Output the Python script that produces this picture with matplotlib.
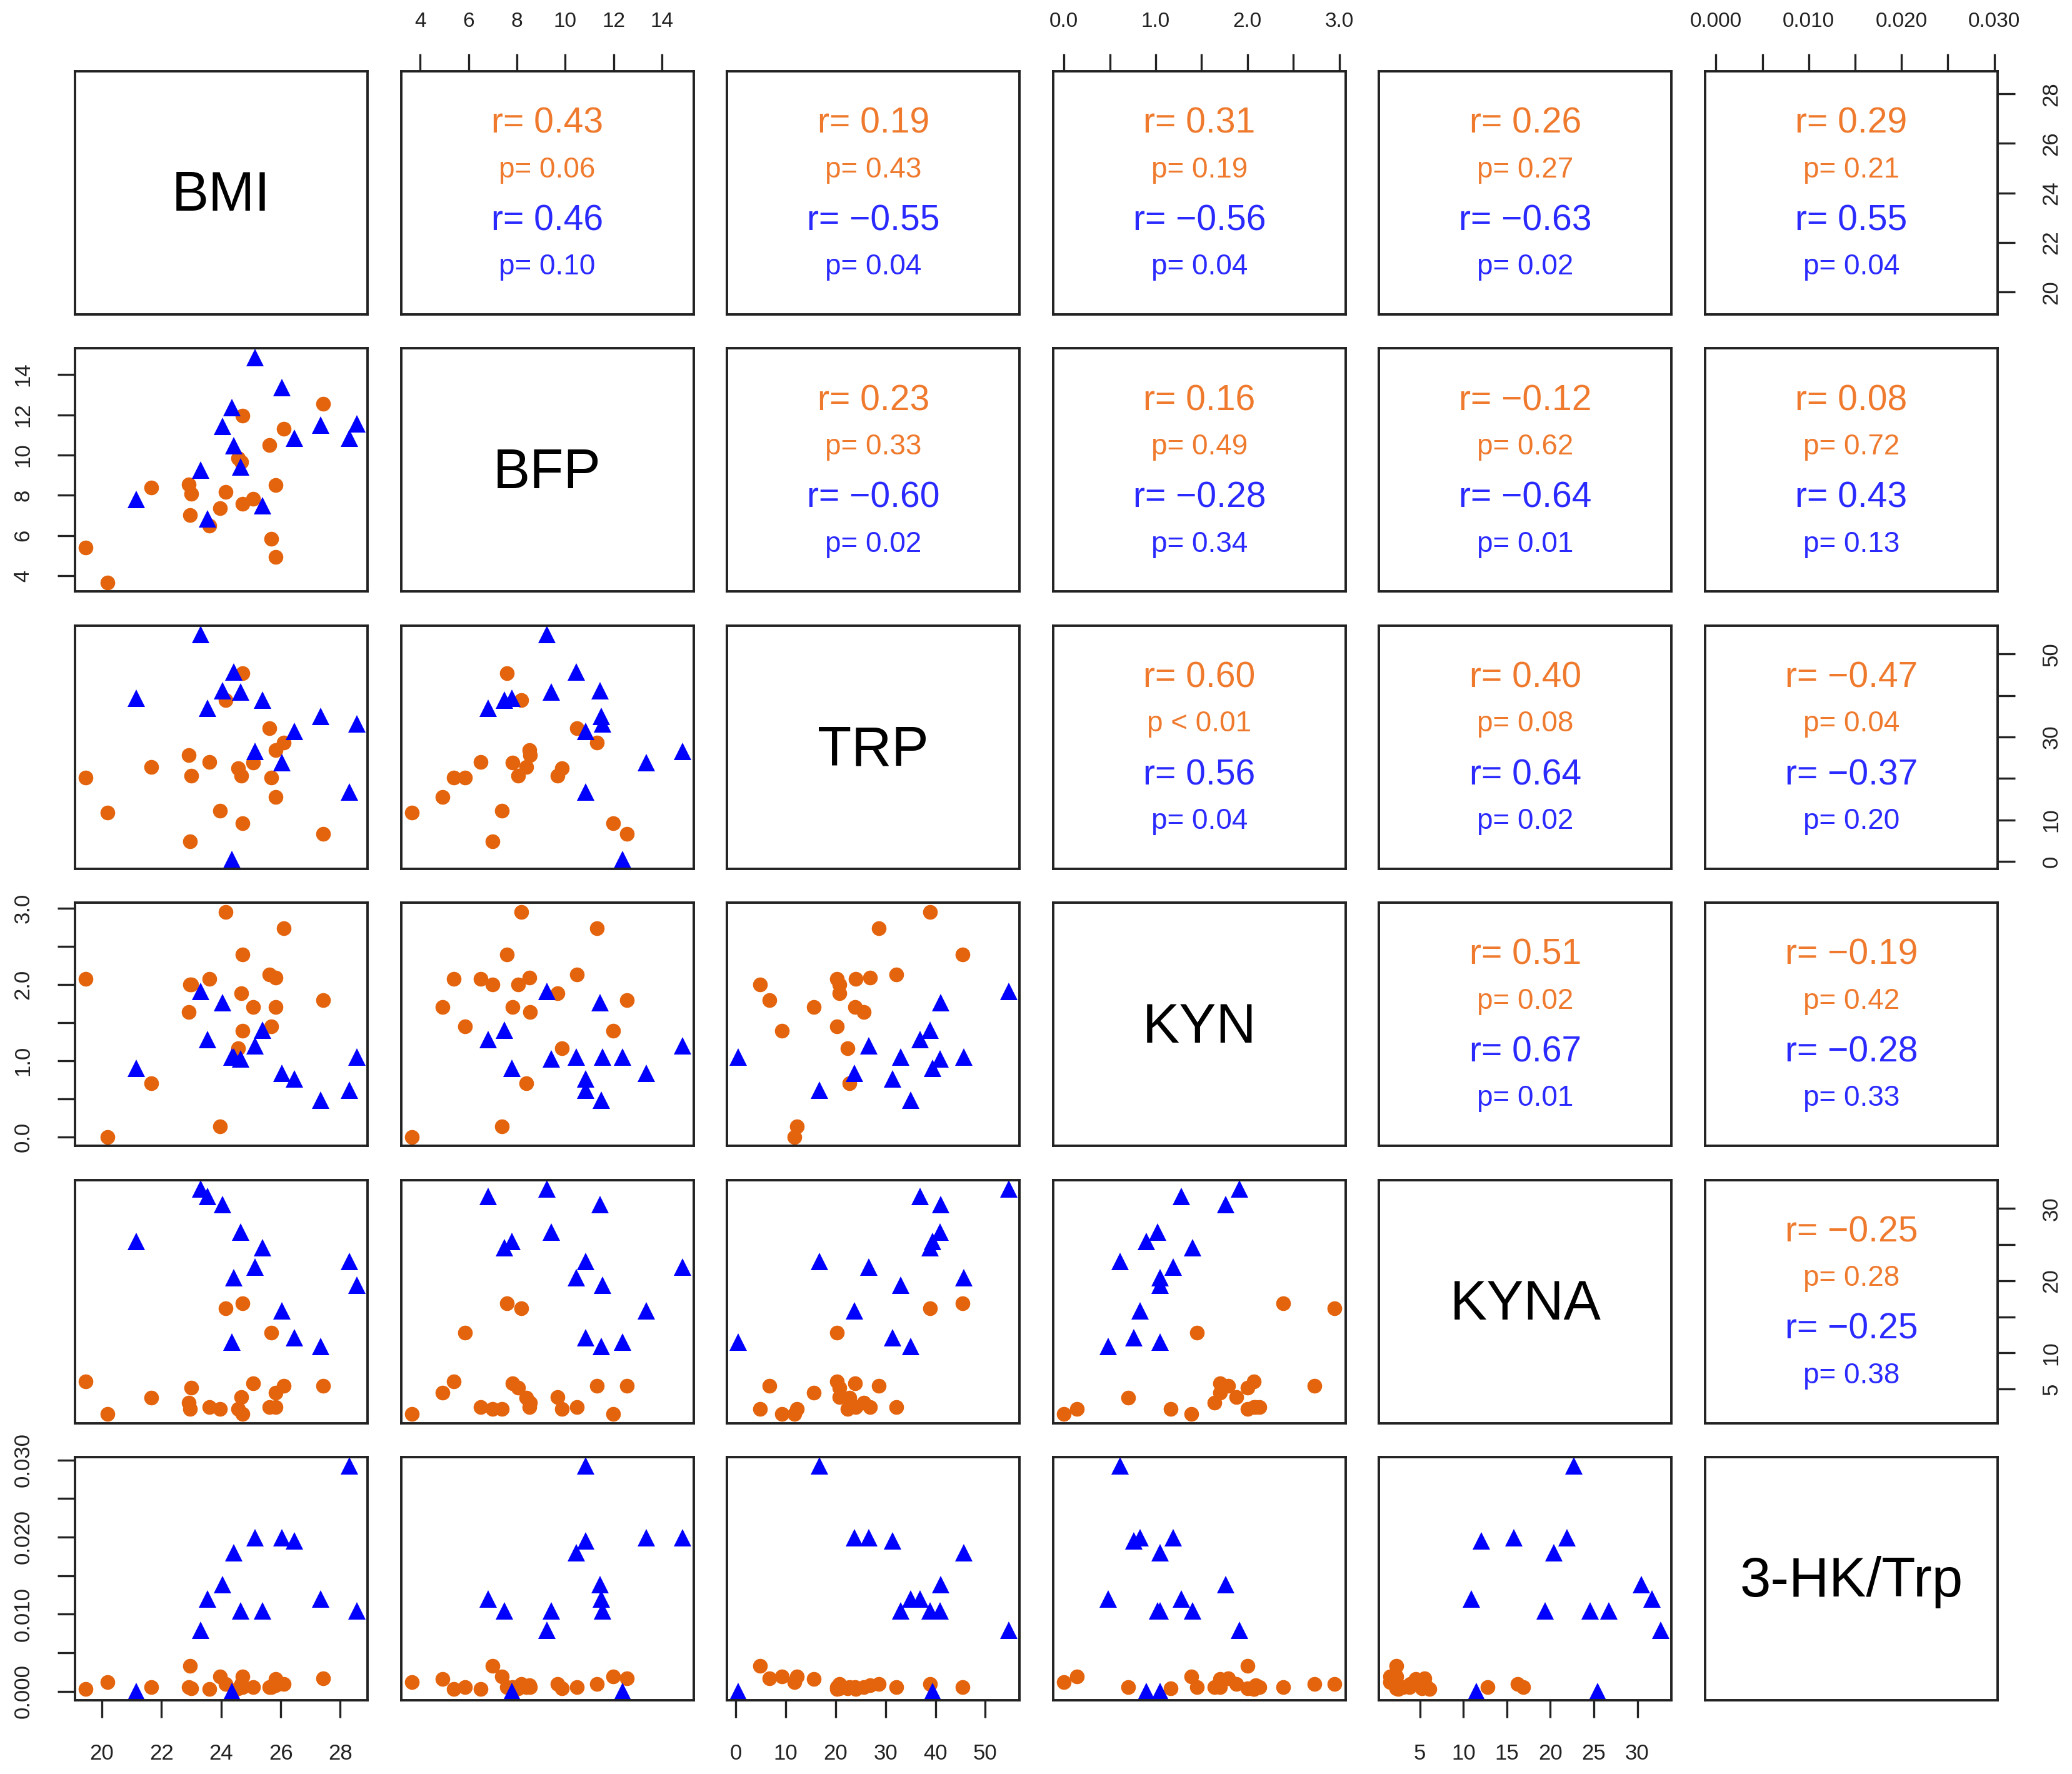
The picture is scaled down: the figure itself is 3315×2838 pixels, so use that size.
import matplotlib.pyplot as plt

plt.rcParams['font.family'] = ['Liberation Sans', 'DejaVu Sans']

names = ["BMI", "BFP", "TRP", "KYN", "KYNA", "3-HK/Trp"]

# group 1 (orange circles)
bmi_o = [19.46, 20.19, 21.65, 22.92, 22.95, 23.00, 23.60, 23.96, 24.16, 24.57,
         24.68, 24.72, 24.72, 25.08, 25.62, 25.68, 25.84, 25.84, 26.10, 27.42]
bfp_o = [5.39, 3.66, 8.39, 8.53, 7.00, 8.06, 6.50, 7.37, 8.17, 9.85,
         9.67, 11.97, 7.58, 7.82, 10.48, 5.85, 8.51, 4.92, 11.30, 12.55]
trp_o = [20.2, 11.7, 22.8, 25.7, 4.9, 20.7, 24.0, 12.2, 38.9, 22.4,
         20.7, 9.2, 45.4, 23.9, 32.1, 20.2, 26.9, 15.6, 28.6, 6.7]
kyn_o = [2.07, 0.00, 0.70, 1.64, 2.00, 2.00, 2.07, 0.14, 2.95, 1.16,
         1.88, 1.39, 2.39, 1.70, 2.13, 1.45, 2.09, 1.70, 2.73, 1.79]
kyna_o = [6.1, 1.6, 3.8, 3.1, 2.3, 5.2, 2.5, 2.3, 16.2, 2.3,
          3.9, 1.55, 16.9, 5.8, 2.5, 12.8, 2.5, 4.5, 5.5, 5.5]
hk_o = [0.0003, 0.0012, 0.0005, 0.0005, 0.0033, 0.0004, 0.0003, 0.0019, 0.0009, 0.0004,
        0.0009, 0.0019, 0.0005, 0.0005, 0.0005, 0.0005, 0.0008, 0.0016, 0.0009, 0.0017]

# group 2 (blue triangles)
bmi_b = [21.15, 23.32, 23.54, 24.04, 24.36, 24.42, 24.66, 25.13, 25.39, 26.03, 26.46, 27.33, 28.30, 28.55]
bfp_b = [7.80, 9.25, 6.82, 11.43, 12.36, 10.45, 9.41, 14.85, 7.49, 13.35, 10.83, 11.48, 10.83, 11.55]
trp_b = [39.4, 54.7, 36.9, 41.1, 0.4, 45.7, 40.9, 26.6, 38.9, 23.8, 31.4, 35.0, 16.7, 33.1]
kyn_b = [0.90, 1.91, 1.28, 1.76, 1.05, 1.05, 1.02, 1.19, 1.40, 0.83, 0.76, 0.48, 0.61, 1.05]
kyna_b = [25.4, 32.7, 31.7, 30.5, 11.5, 20.4, 26.7, 21.9, 24.6, 15.8, 12.1, 10.9, 22.7, 19.4]
hk_b = [0.0, 0.0079, 0.0120, 0.0138, 0.0, 0.0180, 0.0104, 0.0199, 0.0104, 0.0199, 0.0195, 0.0120, 0.0292, 0.0104]

# upper panels, row by row
r_orange = ["0.43", "0.19", "0.31", "0.26", "0.29", "0.23", "0.16", "\u22120.12", "0.08",
            "0.60", "0.40", "\u22120.47", "0.51", "\u22120.19", "\u22120.25"]
p_orange = ["p= 0.06", "p= 0.43", "p= 0.19", "p= 0.27", "p= 0.21", "p= 0.33", "p= 0.49", "p= 0.62", "p= 0.72",
            "p < 0.01", "p= 0.08", "p= 0.04", "p= 0.02", "p= 0.42", "p= 0.28"]
r_blue = ["0.46", "\u22120.55", "\u22120.56", "\u22120.63", "0.55", "\u22120.60", "\u22120.28", "\u22120.64", "0.43",
          "0.56", "0.64", "\u22120.37", "0.67", "\u22120.28", "\u22120.25"]
p_blue = ["p= 0.10", "p= 0.04", "p= 0.04", "p= 0.02", "p= 0.04", "p= 0.02", "p= 0.34", "p= 0.01", "p= 0.13",
          "p= 0.04", "p= 0.02", "p= 0.20", "p= 0.01", "p= 0.33", "p= 0.38"]

tick_vals = [[20, 22, 24, 26, 28], [4, 6, 8, 10, 12, 14], [0, 10, 20, 30, 40, 50],
             [0, 0.5, 1, 1.5, 2, 2.5, 3], [5, 10, 15, 20, 25, 30],
             [0, 0.005, 0.01, 0.015, 0.02, 0.025, 0.03]]
tick_labs = [["20", "22", "24", "26", "28"], ["4", "6", "8", "10", "12", "14"],
             ["0", "10", "20", "30", "40", "50"], ["0.0", "", "1.0", "", "2.0", "", "3.0"],
             ["5", "10", "15", "20", "25", "30"], ["0.000", "", "0.010", "", "0.020", "", "0.030"]]
right_labs = {2: ["0", "10", "", "30", "", "50"], 4: ["5", "10", "", "20", "", "30"]}

orange = [bmi_o, bfp_o, trp_o, kyn_o, kyna_o, hk_o]
blue = [bmi_b, bfp_b, trp_b, kyn_b, kyna_b, hk_b]

c_orange = "#E4640E"
c_orange_txt = "#EF7A2E"
c_blue = "#0000FF"
c_blue_txt = "#2A2AFF"
c_axis = "#222222"

# axis ranges like R pairs(): data range + 4% each side
lims = []
for k in range(6):
    vals = orange[k] + blue[k]
    lo, hi = min(vals), max(vals)
    pad = (hi - lo) * 0.04
    lims.append((lo - pad, hi + pad))

W, H = 3316, 2838
fig = plt.figure(figsize=(W / 200, H / 200), dpi=200)

k = 0
for i in range(6):
    for j in range(6):
        left = 120 + j * 521.6
        top = 114 + i * 443.4
        ax = fig.add_axes([left / W, 1 - (top + 389) / H, 468 / W, 389 / H])
        ax.set_xlim(lims[j])
        ax.set_ylim(lims[i])
        for s in ax.spines.values():
            s.set_linewidth(1.4)
            s.set_color(c_axis)
        ax.set_xticks([])
        ax.set_yticks([])

        if i == j:
            ax.text(0.5, 0.485, names[i], transform=ax.transAxes, ha="center", va="center",
                    fontsize=32, color="black")
        elif i > j:
            ax.plot(orange[j], orange[i], "o", color=c_orange, markersize=8.5, markeredgewidth=0)
            ax.plot(blue[j], blue[i], "^", color=c_blue, markersize=10, markeredgewidth=0)
        else:
            ax.text(0.5, 0.785, "r= " + r_orange[k], transform=ax.transAxes, ha="center", va="center",
                    fontsize=20.5, color=c_orange_txt)
            ax.text(0.5, 0.595, p_orange[k], transform=ax.transAxes, ha="center", va="center",
                    fontsize=16.5, color=c_orange_txt)
            ax.text(0.5, 0.385, "r= " + r_blue[k], transform=ax.transAxes, ha="center", va="center",
                    fontsize=20.5, color=c_blue_txt)
            ax.text(0.5, 0.195, p_blue[k], transform=ax.transAxes, ha="center", va="center",
                    fontsize=16.5, color=c_blue_txt)
            k += 1

        # outer axes alternate sides, as in R
        if i == 0 and j % 2 == 1:
            ax.xaxis.tick_top()
            ax.set_xticks(tick_vals[j], tick_labs[j])
            ax.tick_params(axis="x", direction="out", length=10, width=1.2, pad=13,
                           labelsize=12, colors=c_axis)
        if i == 5 and j % 2 == 0:
            ax.set_xticks(tick_vals[j], tick_labs[j])
            ax.tick_params(axis="x", direction="out", length=10, width=1.2, pad=15,
                           labelsize=12.5, colors=c_axis)
        if j == 0 and i % 2 == 1:
            ax.set_yticks(tick_vals[i], tick_labs[i])
            ax.tick_params(axis="y", direction="out", length=10, width=1.2, pad=14,
                           labelsize=12.5, colors=c_axis)
            for t in ax.get_yticklabels():
                t.set_rotation(90)
                t.set_va("center")
        if j == 5 and i % 2 == 0:
            ax.yaxis.tick_right()
            ax.set_yticks(tick_vals[i], right_labs.get(i, tick_labs[i]))
            ax.tick_params(axis="y", direction="out", length=10, width=1.2, pad=15,
                           labelsize=12.5, colors=c_axis)
            for t in ax.get_yticklabels():
                t.set_rotation(90)
                t.set_va("center")

fig.savefig("out.png", dpi=200, facecolor="white")
